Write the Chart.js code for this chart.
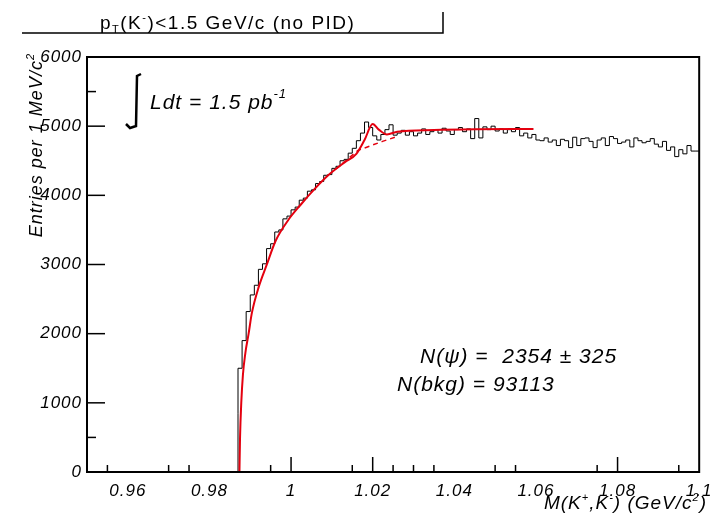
<!DOCTYPE html>
<html>
<head>
<meta charset="utf-8">
<script src="https://cdn.jsdelivr.net/npm/chart.js@4.4.1/dist/chart.umd.min.js"></script>
<style>
  html, body { margin: 0; padding: 0; background: #fff; }
</style>
</head>
<body>
<canvas id="c" width="720" height="519"></canvas>
<script>
// --- data ---
const BIN_START = 0.987;   // first filled bin (K+K- threshold)
const BIN_WIDTH = 0.001;   // 1 MeV bins
const counts = [
  850, 1500, 1900, 2320, 2560, 2700, 2930, 3010, 3230, 3300,
  3470, 3500, 3660, 3700, 3790, 3830, 3930, 3960, 4060, 4080,
  4170, 4200, 4290, 4300, 4390, 4420, 4500, 4520, 4610, 4680,
  4790, 4900, 5060, 4980, 4860, 4800, 4880, 4950, 5020, 4870,
  4900, 4940, 4870, 4920, 4860, 4900, 4960, 4880, 4920, 4950,
  4900, 4970, 4930, 4880, 4950, 4980, 4920, 4960, 4820, 5110,
  4830, 4990, 4950, 5000, 4930, 4960, 4900, 4950, 4920, 4980,
  4860, 4900, 4830, 4880, 4800, 4790, 4830, 4770, 4800, 4720,
  4810, 4790, 4690, 4840, 4720, 4820, 4830, 4780, 4690, 4800,
  4830, 4720, 4850, 4820, 4750, 4770, 4800, 4700, 4830, 4790,
  4760, 4780, 4820, 4740, 4700, 4780, 4650, 4700, 4560, 4660,
  4600, 4720, 4640
];

// fit (signal + background), red solid
const fitMass = [0.98735, 0.9875, 0.9878, 0.9882, 0.9888, 0.9896, 0.9904, 0.9921, 0.9940, 0.9962,
                 0.9994, 1.0023, 1.0059, 1.0091, 1.0132, 1.0160, 1.0180, 1.0200, 1.0215, 1.0235,
                 1.0260, 1.0350, 1.0450, 1.0594];
const fitVal  = [0, 500, 1000, 1400, 1720, 2000, 2300, 2680, 2990, 3340,
                 3650, 3860, 4100, 4290, 4480, 4600, 4800, 5030, 4950, 4880,
                 4920, 4945, 4955, 4960];

// background only, red dashed (where it leaves the fit)
const bkgMass = [1.0110, 1.0164, 1.0224, 1.0260];
const bkgVal  = [4380, 4650, 4780, 4850];

const xLabels = [0.96, 0.98, 1.00, 1.02, 1.04, 1.06, 1.08, 1.10];
const xMajorTicks = [1.00, 1.02, 1.08];
const xMinorTicks = [0.955, 0.970, 0.975, 0.995, 1.015, 1.025, 1.030, 1.035, 1.050, 1.055, 1.075, 1.095];
const yLabels = [0, 1000, 2000, 3000, 4000, 5000, 6000];
const yMinorTicks = [500, 5500];

// --- histogram as step line ---
let histPts = [{ x: 0.95, y: 0 }, { x: BIN_START, y: 0 }];
counts.forEach((c, i) => histPts.push({ x: BIN_START + i * BIN_WIDTH, y: c }));
histPts.push({ x: BIN_START + counts.length * BIN_WIDTH, y: counts[counts.length - 1] });

const RED = '#e4000f';
const FAM = '"Liberation Sans", Arial, sans-serif';

// draws text pieces [string, scale, dy] one after another
function rich(ctx, parts, x, y, size, style, align) {
  const fontOf = (k) => `${style} ${Math.round(size * k)}px ${FAM}`;
  let w = 0;
  parts.forEach(p => { ctx.font = fontOf(p[1]); w += ctx.measureText(p[0]).width; });
  let cx = align === 'right' ? x - w : x;
  ctx.textAlign = 'left';
  parts.forEach(p => {
    ctx.font = fontOf(p[1]);
    ctx.fillText(p[0], cx, y + p[2]);
    cx += ctx.measureText(p[0]).width;
  });
}

// ROOT style frame, inward ticks and text
const rootDeco = {
  id: 'rootDeco',
  beforeDraw(chart) {
    chart.ctx.letterSpacing = '1px';
  },
  afterDatasetsDraw(chart) {
    const { ctx, chartArea: a, scales: { x, y } } = chart;
    ctx.save();
    ctx.strokeStyle = '#000';
    ctx.lineWidth = 2;
    ctx.strokeRect(a.left, a.top, a.right - a.left, a.bottom - a.top);

    ctx.lineWidth = 1.5;
    const seg = (x1, y1, x2, y2) => { ctx.beginPath(); ctx.moveTo(x1, y1); ctx.lineTo(x2, y2); ctx.stroke(); };
    yLabels.forEach(v => { const p = y.getPixelForValue(v); seg(a.left, p, a.left + 18, p); });
    yMinorTicks.forEach(v => { const p = y.getPixelForValue(v); seg(a.left, p, a.left + 9, p); });
    xMajorTicks.forEach(v => { const p = x.getPixelForValue(v); seg(p, a.bottom, p, a.bottom - 15); });
    xMinorTicks.forEach(v => { const p = x.getPixelForValue(v); seg(p, a.bottom, p, a.bottom - 7); });
    ctx.restore();
  },
  afterDraw(chart) {
    const { ctx } = chart;
    ctx.save();
    ctx.fillStyle = '#000';
    ctx.strokeStyle = '#000';
    ctx.textBaseline = 'alphabetic';

    // title pave
    ctx.lineWidth = 1.5;
    ctx.beginPath();
    ctx.moveTo(22, 33); ctx.lineTo(443, 33); ctx.lineTo(443, 12);
    ctx.stroke();
    ctx.letterSpacing = '1.5px';
    rich(ctx, [['p', 1, 0], ['T', 0.6, 4], ['(K', 1, 0], ['-', 0.6, -8], [')<1.5 GeV/c (no PID)', 1, 0]],
         100, 29, 19, 'normal', 'left');
    ctx.letterSpacing = '1px';

    // y title
    ctx.save();
    ctx.translate(42, 53);
    ctx.rotate(-Math.PI / 2);
    rich(ctx, [['Entries per 1 MeV/c', 1, 0], ['2', 0.6, -8]], 0, 0, 18, 'italic', 'right');
    ctx.restore();

    // x title
    rich(ctx, [['M(K', 1, 0], ['+', 0.6, -8], [',K', 1, 0], ['-', 0.6, -8], [') (GeV/c', 1, 0], ['2', 0.6, -8], [')', 1, 0]],
         707, 509, 19, 'italic', 'right');

    // luminosity
    ctx.lineWidth = 2.5;
    ctx.beginPath();
    ctx.moveTo(141, 74); ctx.lineTo(137, 76); ctx.lineTo(136, 126); ctx.lineTo(130, 128); ctx.lineTo(126, 124);
    ctx.stroke();
    rich(ctx, [['Ldt = 1.5 pb', 1, 0], ['-1', 0.6, -11]], 150, 109, 21, 'italic', 'left');

    // fit results
    rich(ctx, [['N(ψ) =  2354 ± 325', 1, 0]], 420, 363, 21, 'italic', 'left');
    rich(ctx, [['N(bkg) = 93113', 1, 0]], 397, 391, 21, 'italic', 'left');
    ctx.restore();
  }
};

new Chart(document.getElementById('c'), {
  type: 'line',
  data: {
    datasets: [
      {
        label: 'data',
        data: histPts,
        stepped: 'after',
        borderColor: '#000',
        borderWidth: 1,
        pointRadius: 0,
        fill: false,
        order: 2
      },
      {
        label: 'fit',
        data: fitMass.map((m, i) => ({ x: m, y: fitVal[i] })),
        borderColor: RED,
        borderWidth: 2,
        pointRadius: 0,
        cubicInterpolationMode: 'monotone',
        fill: false,
        order: 1
      },
      {
        label: 'bkg',
        data: bkgMass.map((m, i) => ({ x: m, y: bkgVal[i] })),
        borderColor: RED,
        borderWidth: 1.5,
        borderDash: [5, 4],
        pointRadius: 0,
        fill: false,
        order: 1
      }
    ]
  },
  options: {
    responsive: false,
    animation: false,
    devicePixelRatio: 1,
    layout: { padding: { left: 0, right: 16, top: 57, bottom: 0 } },
    plugins: { legend: { display: false }, tooltip: { enabled: false } },
    scales: {
      x: {
        type: 'linear',
        min: 0.95, max: 1.1,
        grid: { display: false, drawTicks: false },
        border: { display: false },
        afterBuildTicks: (s) => { s.ticks = xLabels.map(v => ({ value: v })); },
        afterFit: (s) => { s.height = 47; },
        ticks: {
          padding: 9,
          maxRotation: 0,
          autoSkip: false,
          color: '#000',
          font: { family: FAM, size: 17, style: 'italic' },
          callback: (v) => String(parseFloat(v.toFixed(2)))
        }
      },
      y: {
        min: 0, max: 6000,
        grid: { display: false, drawTicks: false },
        border: { display: false },
        afterBuildTicks: (s) => { s.ticks = yLabels.map(v => ({ value: v })); },
        afterFit: (s) => { s.width = 87; },
        ticks: {
          padding: 5,
          color: '#000',
          font: { family: FAM, size: 17, style: 'italic' },
          callback: (v) => String(v)
        }
      }
    }
  },
  plugins: [rootDeco]
});
</script>
</body>
</html>
